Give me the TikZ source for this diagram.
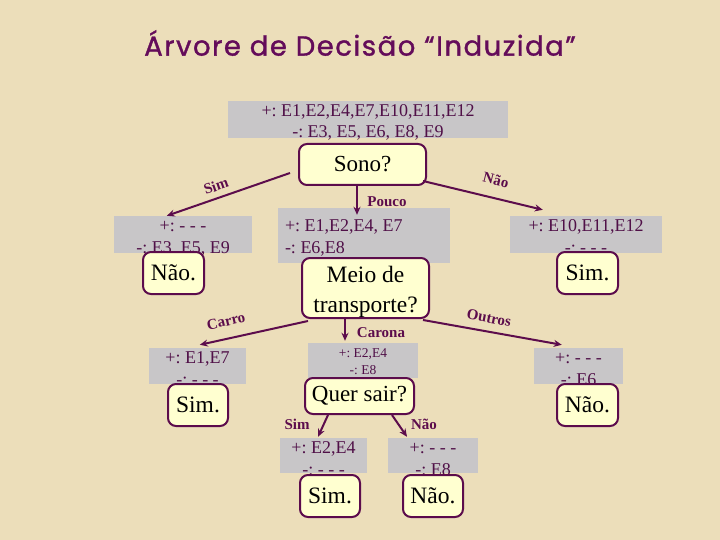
\documentclass[tikz,border=0pt]{standalone}
\usepackage{fontspec}
\setmainfont{Liberation Serif}
\newfontfamily\titlefont{Poppins}[LetterSpace=5.5,FakeBold=1.2]
\usetikzlibrary{arrows.meta,calc}
\definecolor{bgc}{RGB}{236,222,186}
\definecolor{grayc}{RGB}{200,198,200}
\definecolor{purp}{RGB}{92,12,76}
\definecolor{txtc}{RGB}{80,16,72}
\definecolor{leafc}{RGB}{255,255,208}
\definecolor{titlec}{RGB}{100,12,90}
% #1 column type, #2 raise of first baseline above node centre, #3 lines
\newcommand\boxtxt[3]{\raisebox{#2}[0pt][0pt]{\begin{tabular}[t]{@{}#1@{}}#3\end{tabular}}}
\tikzset{
  gbox/.style={fill=grayc, inner sep=0pt, text=txtc,
    font=\frenchspacing\fontsize{18}{21.5}\selectfont},
  leaf/.style={draw=purp, line width=2pt, fill=leafc, rounded corners=8pt, inner sep=0pt, font=\fontsize{23.5}{30}\selectfont, text=black},
  conn/.style={draw=purp, line width=2pt, -{Stealth[length=8pt,width=7pt]}},
  elab/.style={text=purp, font=\bfseries\fontsize{15}{15}\selectfont, inner sep=0pt}
}
\begin{document}
\begin{tikzpicture}[x=1pt,y=-1pt]
\fill[bgc] (0,0) rectangle (720,540);
\useasboundingbox (0,0) rectangle (720,540);
\node[text=titlec, font=\titlefont\fontsize{27.5}{30}\selectfont] (title) at (360,43) {Árvore de Decisão “Induzida”};
% gray boxes
\node[gbox, minimum width=280pt, minimum height=37pt] (root) at (368,119.5) {\boxtxt{c}{3pt}{+: E1,E2,E4,E7,E10,E11,E12\\-: E3, E5, E6, E8, E9}};
\node[gbox, minimum width=138pt, minimum height=37pt] (lbox) at (183,234.5) {\boxtxt{c}{3pt}{+: - - -\\-: E3, E5, E9}};
\node[gbox, minimum width=172pt, minimum height=55pt, font=\frenchspacing\fontsize{18}{21}\selectfont] (mbox) at (364,235.5) {\makebox[158pt][l]{\boxtxt{l}{3.5pt}{+: E1,E2,E4, E7\\-: E6,E8}}};
\node[gbox, minimum width=152pt, minimum height=37pt] (rbox) at (586,234.5) {\boxtxt{c}{3pt}{+: E10,E11,E12\\-: - - -}};
\node[gbox, minimum width=97pt, minimum height=36pt] (cbox) at (197.5,366) {\boxtxt{c}{2.5pt}{+: E1,E7\\-: - - -}};
\node[gbox, minimum width=110pt, minimum height=35pt, font=\frenchspacing\fontsize{13.5}{17}\selectfont] (kbox) at (363,360.5) {\boxtxt{c}{3.5pt}{+: E2,E4\\-: E8}};
\node[gbox, minimum width=89pt, minimum height=36pt] (obox) at (578.5,366) {\boxtxt{c}{2.5pt}{+: - - -\\-: E6}};
\node[gbox, minimum width=87pt, minimum height=35pt] (sbox) at (323.5,455.5) {\boxtxt{c}{2pt}{+: E2,E4\\-: - - -}};
\node[gbox, minimum width=90pt, minimum height=35pt] (nbox) at (433,455.5) {\boxtxt{c}{2pt}{+: - - -\\-: E8}};
% decision / leaf boxes
\node[leaf, minimum width=127pt, minimum height=41pt, font=\fontsize{23}{30}\selectfont] (sono) at (362.5,164.5) {Sono?};
\node[leaf, minimum width=127pt, minimum height=60pt] (meio) at (365.5,288) {\boxtxt{c}{6pt}{Meio de\\transporte?}};
\node[leaf, minimum width=109pt, minimum height=36pt, font=\fontsize{23}{30}\selectfont] (quer) at (359.5,396) {Quer sair?};
\node[leaf, minimum width=61pt, minimum height=42pt] (nao1) at (173.5,273) {Não.};
\node[leaf, minimum width=61pt, minimum height=42pt] (sim1) at (587.5,273) {Sim.};
\node[leaf, minimum width=60pt, minimum height=42pt] (sim2) at (198,405) {Sim.};
\node[leaf, minimum width=61pt, minimum height=42pt] (nao2) at (587.5,405) {Não.};
\node[leaf, minimum width=60pt, minimum height=42pt] (sim3) at (330,496) {Sim.};
\node[leaf, minimum width=60pt, minimum height=42pt] (nao3) at (433,496) {Não.};
% connectors
\draw[conn] ($(sono.west)+(-8,8.5)$) -- ($(lbox.north west)+(53,0)$);
\draw[conn] ($(sono.south)+(-5.5,0)$) -- ($(mbox.north)+(-7,7)$);
\draw[conn] ($(sono.east)+(-4,16.5)$) -- ($(rbox.north west)+(33,-6)$);
\draw[conn] ($(meio.south west)+(7,2)$) -- ($(cbox.north west)+(51,-3)$);
\draw[conn] ($(meio.south)+(-20.5,0)$) -- ($(kbox.north)+(-18,-2)$);
\draw[conn] ($(meio.south east)+(-7,1)$) -- ($(obox.north west)+(28,-3)$);
\draw[conn] ($(quer.south)+(-31.5,0)$) -- ($(sbox.north)+(-5.5,-1)$);
\draw[conn] ($(quer.south)+(32.5,0)$) -- ($(nbox.north)+(-26,-1)$);
% labels
\node[elab, rotate=19] (lsim) at (216,186) {Sim};
\node[elab] (lpouco) at (387,202) {Pouco};
\node[elab, rotate=-14] (lnao) at (496,180) {Não};
\node[elab, rotate=13] (lcarro) at (226,321) {Carro};
\node[elab] (lcarona) at (381,333) {Carona};
\node[elab, rotate=-11] (loutros) at (489,318) {Outros};
\node[elab] (lsim2) at (297,424) {Sim};
\node[elab] (lnao2) at (424,424) {Não};
\end{tikzpicture}
\end{document}
